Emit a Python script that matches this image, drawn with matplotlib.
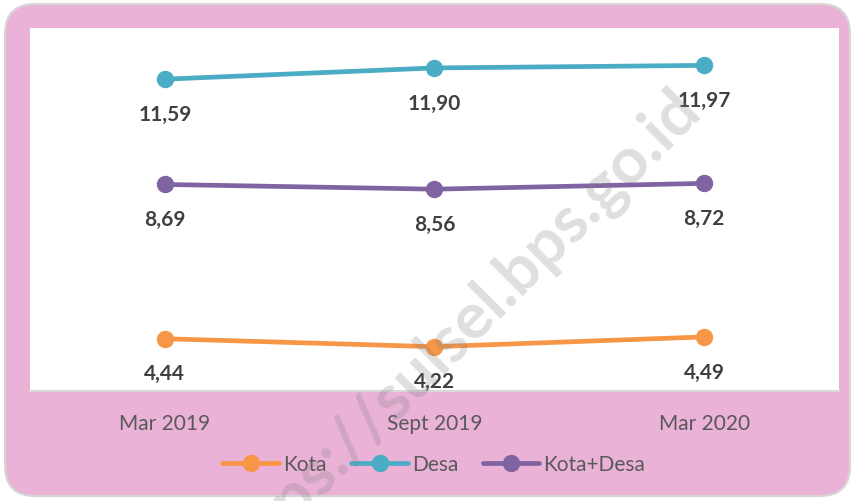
import matplotlib
matplotlib.use("Agg")
import matplotlib.pyplot as plt
from matplotlib.patches import FancyBboxPatch

plt.rcParams['font.family'] = ['Lato', 'DejaVu Sans']

categories = ["Mar 2019", "Sept 2019", "Mar 2020"]
kota = [4.44, 4.22, 4.49]
desa = [11.59, 11.90, 11.97]
kota_desa = [8.69, 8.56, 8.72]
series_names = ["Kota", "Desa", "Kota+Desa"]
colors = ["#F79646", "#4BACC6", "#8064A2"]

W, H = 854, 502
fig = plt.figure(figsize=(W / 100, H / 100), dpi=100)
fig.patch.set_facecolor("white")

bg = FancyBboxPatch((5 / W, 5 / H), 845 / W, 492 / H,
                    boxstyle="round,pad=0,rounding_size=0.035",
                    transform=fig.transFigure, facecolor="#EBB2D7",
                    edgecolor="#D6D6D6", linewidth=1.5, zorder=-5,
                    mutation_aspect=W / H)
fig.patches.append(bg)

ax = fig.add_axes([30 / W, 1 - 392 / H, 809 / W, 363 / H])
ax.set_zorder(2)
ax.set_facecolor("white")
x = list(range(len(categories)))
for vals, name, c in zip([kota, desa, kota_desa], series_names, colors):
    ax.plot(x, vals, color=c, linewidth=3.4, marker="o", markersize=11.5,
            label=name, solid_capstyle="round")
    for xi, v in zip(x, vals):
        ax.annotate(f"{v:.2f}".replace(".", ","), (xi, v), xytext=(0, -25),
                    textcoords="offset points", ha="center", va="center",
                    fontsize=15, fontweight="bold", color="#404040")

ax.set_xlim(-0.5, 2.5)
ax.set_ylim(3, 13)
ax.set_yticks([])
ax.set_xticks(x)
ax.set_xticklabels(categories, fontsize=15, color="#595959")
ax.tick_params(axis="x", length=0, pad=16)
for s in ["top", "left", "right"]:
    ax.spines[s].set_visible(False)
ax.spines["bottom"].set_color("#D9D9D9")
ax.spines["bottom"].set_linewidth(1.5)

leg = fig.legend(loc="center", bbox_to_anchor=(434 / W, 1 - 465 / H), ncol=3,
                 frameon=False, fontsize=15, handlelength=2.7,
                 handletextpad=0.2, columnspacing=1.2)
for t in leg.get_texts():
    t.set_color("#595959")

fig.text(455 / W, 1 - 335 / H, "https://sulsel.bps.go.id", rotation=45,
         fontsize=47, fontweight="bold", color="gray", alpha=0.25,
         ha="center", va="center", rotation_mode="anchor", zorder=10)

fig.savefig("out.png", dpi=100, facecolor=fig.get_facecolor())
